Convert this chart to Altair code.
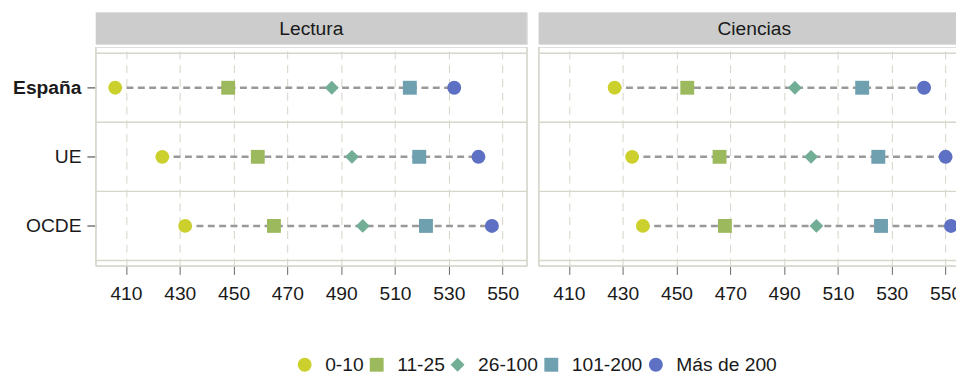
import altair as alt
import pandas as pd

# ---------------- data ----------------
tests = ["Lectura", "Ciencias"]
countries = ["España", "UE", "OCDE"]
groups = ["0-10", "11-25", "26-100", "101-200", "Más de 200"]

# values per group, order: España, UE, OCDE
lectura_0_10 = [406, 423.5, 432]
lectura_11_25 = [448, 459, 465]
lectura_26_100 = [486.5, 494, 498]
lectura_101_200 = [515.5, 519, 521.5]
lectura_200 = [532, 541, 546]

ciencias_0_10 = [427, 433.5, 437.5]
ciencias_11_25 = [454, 466, 468]
ciencias_26_100 = [494, 500, 502]
ciencias_101_200 = [519, 525, 526]
ciencias_200 = [542, 550, 552]

x_ticks = [410, 430, 450, 470, 490, 510, 530, 550]

colors = ["#ccd02c", "#9cb95d", "#71ae95", "#6fa0b0", "#5e70c4"]
shapes = ["circle", "square", "diamond", "square", "circle"]
sizes = [196, 200, 160, 225, 256]

series = {
    "Lectura": [lectura_0_10, lectura_11_25, lectura_26_100, lectura_101_200, lectura_200],
    "Ciencias": [ciencias_0_10, ciencias_11_25, ciencias_26_100, ciencias_101_200, ciencias_200],
}

rows = []
for t in tests:
    for g, vals in zip(groups, series[t]):
        for i, (c, v) in enumerate(zip(countries, vals)):
            rows.append({"test": t, "country": c, "row": i + 1, "group": g, "value": v})
df = pd.DataFrame(rows)

div_df = pd.DataFrame({"row": [0.5, 1.5, 2.5, 3.5]})
one = pd.DataFrame({"k": [0]})

# ---------------- layout constants ----------------
W = 437
H = 222
SH = 32
XDOM = [398.8, 559.0]
YDOM = [0.41, 3.58]
FONT = "Liberation Sans"
FS = 19.5
BORDER = "#d6d6cb"

label_expr = " : ".join(
    [f"datum.value == {i + 1} ? '{c}'" for i, c in enumerate(countries[:-1])]
) + f" : '{countries[-1]}'"

legend = alt.Legend(
    title=None, orient="none", direction="horizontal", columns=5,
    legendX=202, legendY=347, labelFontSize=FS, labelFont=FONT,
    labelColor="#1a1a1a", symbolSize=120, symbolStrokeWidth=0,
    symbolOpacity=1, labelOffset=11, columnPadding=3, padding=0,
)


def panel(test, show_y):
    d = df[df.test == test]
    xscale = alt.Scale(domain=XDOM, nice=False, zero=False)
    yscale = alt.Scale(domain=YDOM, reverse=True, nice=False, zero=False)
    xaxis = alt.Axis(
        values=x_ticks, title=None, grid=True, gridDash=[8, 6], gridColor="#d3d3c7",
        gridWidth=1, tickSize=8.5, tickColor="#666666", tickWidth=1, labelPadding=10,
        labelFontSize=FS, labelFont=FONT, labelColor="#1a1a1a", domain=False, format="d",
    )
    if show_y:
        yaxis = alt.Axis(
            values=[1, 2, 3], labelExpr=label_expr, title=None, grid=False,
            tickSize=9, tickColor="#333333", tickWidth=1, labelPadding=6,
            labelFontSize=FS, labelFont=FONT, labelColor="#1a1a1a", domain=False,
            labelFontWeight={"condition": {"test": "datum.value == 1", "value": "bold"}, "value": "normal"},
        )
    else:
        yaxis = None

    ych = alt.Y("row:Q", scale=yscale, axis=yaxis)

    divs = alt.Chart(div_df).mark_rule(color=BORDER, strokeWidth=1.4).encode(
        y=ych, x=alt.value(0), x2=alt.value(W)
    )
    line = alt.Chart(d).mark_rule(color="#999999", strokeWidth=2.5, strokeDash=[7, 4.5]).encode(
        x=alt.X("min(value):Q", scale=xscale, axis=xaxis),
        x2="max(value):Q",
        y=ych,
    )
    pts = alt.Chart(d).mark_point(filled=True, opacity=1, strokeWidth=0).encode(
        x=alt.X("value:Q", scale=xscale, axis=xaxis),
        y=ych,
        color=alt.Color("group:N", scale=alt.Scale(domain=groups, range=colors), legend=legend),
        shape=alt.Shape("group:N", scale=alt.Scale(domain=groups, range=shapes), legend=legend),
        size=alt.Size("group:N", scale=alt.Scale(domain=groups, range=sizes), legend=None),
    )
    borders = [
        alt.Chart(one).mark_rule(color=BORDER, strokeWidth=1.4).encode(
            x=alt.value(0), y=alt.value(0), y2=alt.value(H)),
        alt.Chart(one).mark_rule(color=BORDER, strokeWidth=1.4).encode(
            x=alt.value(W), y=alt.value(0), y2=alt.value(H)),
        alt.Chart(one).mark_rule(color=BORDER, strokeWidth=1.4).encode(
            x=alt.value(0), x2=alt.value(W), y=alt.value(H)),
    ]
    body = alt.layer(divs, line, pts, *borders).properties(width=W, height=H)

    strip_df = pd.DataFrame({"t": [test]})
    srect = alt.Chart(strip_df).mark_rect(color="#cccccc").encode(
        x=alt.value(0), x2=alt.value(W), y=alt.value(0), y2=alt.value(SH))
    stext = alt.Chart(strip_df).mark_text(
        font=FONT, fontSize=FS, color="#1a1a1a", baseline="middle", align="center"
    ).encode(text="t:N", x=alt.value(W / 2), y=alt.value(SH / 2 + 1))
    strip = alt.layer(srect, stext).properties(width=W, height=SH)

    return alt.vconcat(strip, body, spacing=0)


chart = alt.hconcat(panel("Lectura", True), panel("Ciencias", False), spacing=8).properties(
    padding={"left": 4, "top": 1, "right": -16, "bottom": -2}
).configure_view(stroke=None).configure(font=FONT)

chart.save("out.html", embed_options={"renderer": "svg", "actions": False})
